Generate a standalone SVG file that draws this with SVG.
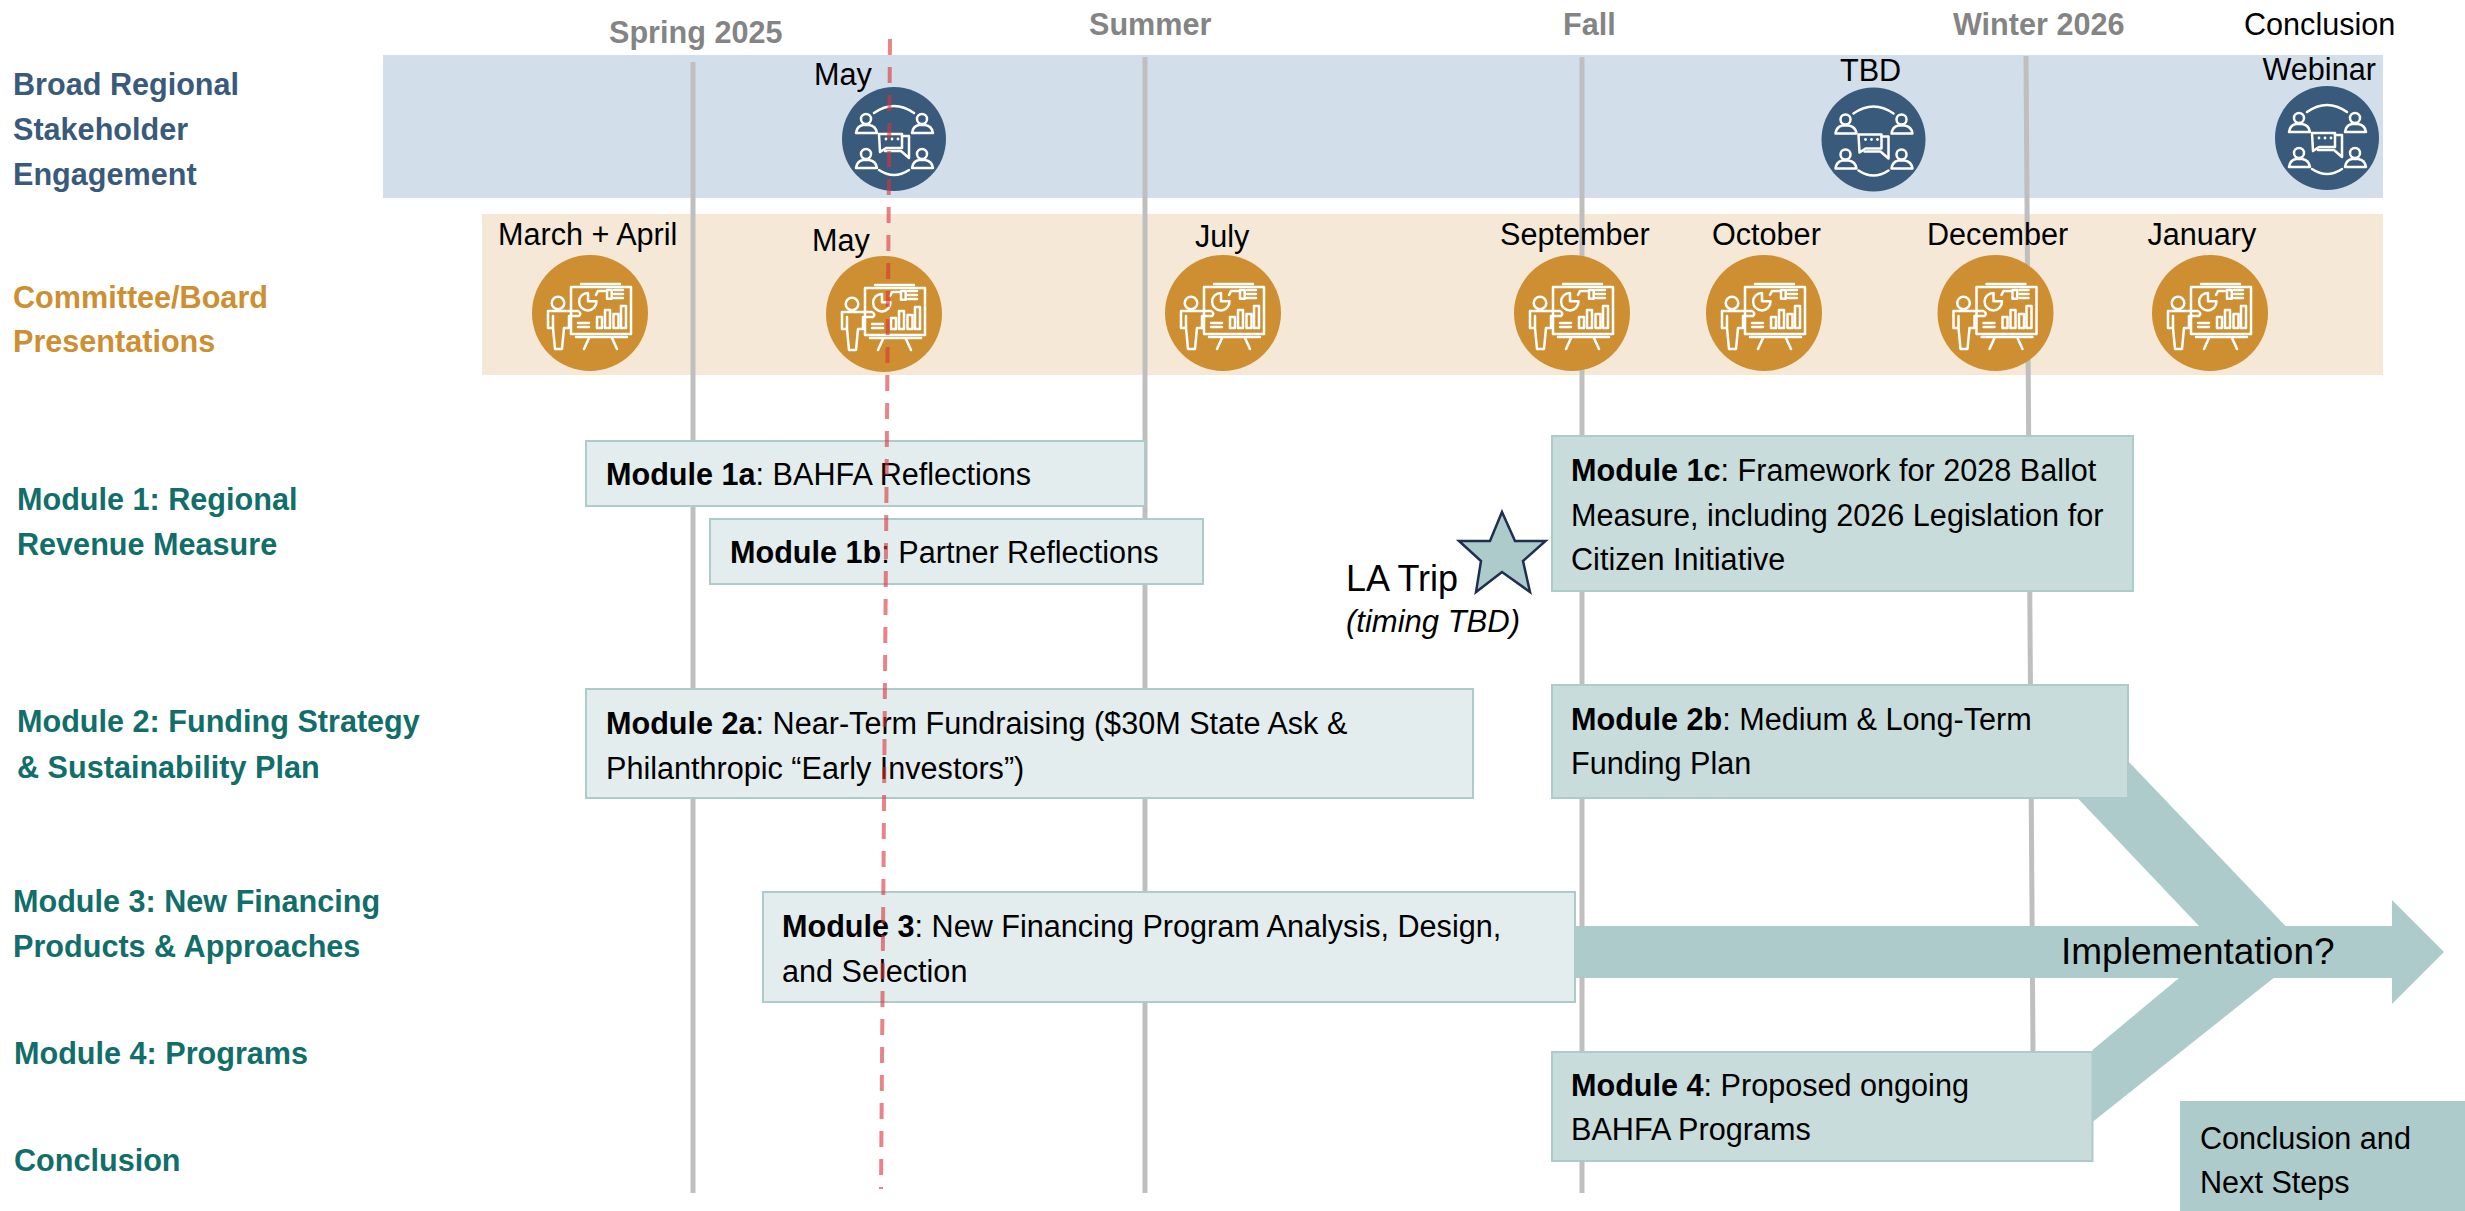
<svg xmlns="http://www.w3.org/2000/svg" width="2465" height="1211" viewBox="0 0 2465 1211">
<style>
text{font-family:"Liberation Sans",Arial,sans-serif;font-size:30.6px;fill:#000}
.season{font-weight:bold;fill:#848484}
.blue{font-weight:bold;fill:#3a5a7c}
.gold{font-weight:bold;fill:#cd8f32}
.teal{font-weight:bold;fill:#116e6a}
.b{font-weight:bold}
.vl{stroke:#bfbfbf;stroke-width:5;fill:none}
.lt{fill:#e3edee;stroke:#aecbcb;stroke-width:2}
.dk{fill:#c8dcdb;stroke:#aecbcb;stroke-width:2}
.arr{fill:#aecbcb}
.ic{fill:none;stroke:#fff;stroke-width:2.5;stroke-linejoin:round;stroke-linecap:round}
</style>
<defs>
<g id="meet"><circle r="52" fill="#3a5a7c"/><g class="ic">
<path d="M-20,-26Q0,-40 20,-26M-15,31Q0,41 15,31"/>
<circle cx="-28" cy="-20" r="5"/><path d="M-38,-6Q-37,-13 -31,-14H-25Q-18,-13 -17,-6Z"/>
<circle cx="28" cy="-20" r="5"/><path d="M18,-6Q19,-13 25,-14H31Q38,-13 39,-6Z"/>
<circle cx="-28" cy="15" r="5"/><path d="M-38,29Q-37,22 -31,21H-25Q-18,22 -17,29Z"/>
<circle cx="28" cy="15" r="5"/><path d="M18,29Q19,22 25,21H31Q38,22 39,29Z"/>
<path d="M-15,-5H8V9H-8L-14,13Z"/><path d="M8,-3H15V19L7,12H-9"/>
<circle cx="-8" cy="0" r="1.4" fill="#fff" stroke="none"/><circle cx="-2" cy="0" r="1.4" fill="#fff" stroke="none"/><circle cx="4" cy="0" r="1.4" fill="#fff" stroke="none"/></g></g>
<g id="pres"><circle r="58" fill="#cd8f32"/><g class="ic">
<path d="M-9,-29H30M-14,24H37M-1,25L-6,36M22,25L27,36"/>
<rect x="-19" y="-26" width="60" height="47"/>
<circle cx="-32" cy="-10" r="6.3"/>
<path d="M-12,-2H-42V15H-37L-35,36H-28L-26,15H-21V3H-11Q-8,0 -12,-2ZM-37,3V15"/>
<path d="M-2,-20A8.7,8.7 0 1 0 6.500,-11.700H-2Z"/><path d="M6,-18L8,-22H15"/>
<rect x="17" y="-23" width="4.700" height="8.700"/><path d="M24,-23H33M24,-19H33M24,-15H33M-12,10H-1M-12,14H-1"/>
<rect x="7" y="4" width="5" height="11"/><rect x="15" y="-3" width="5" height="18"/><rect x="23.500" y="1" width="5" height="14"/><rect x="31" y="-7" width="5" height="22"/>
</g></g>
</defs>
<g id="bands">
<rect x="383" y="55" width="2000" height="143" fill="#d2dee9"/>
<rect x="482" y="214" width="1901" height="161" fill="#f5e8d7"/>
</g>
<g id="timeline">
<path class="vl" d="M693,62V1193"/><path class="vl" d="M1145,57V1193"/><path class="vl" d="M1582,57V1193"/><path class="vl" d="M2026,56L2033,1052"/>
</g>
<g id="seasons">
<text class="season" x="609" y="43">Spring 2025</text>
<text class="season" x="1089" y="35">Summer</text>
<text class="season" x="1563" y="35">Fall</text>
<text class="season" x="1953" y="35">Winter 2026</text>
</g>
<g id="row-labels">
<text class="blue" x="13" y="94.5">Broad Regional</text>
<text class="blue" x="13" y="139.5">Stakeholder</text>
<text class="blue" x="13" y="184.5">Engagement</text>
<text class="gold" x="13" y="307.5">Committee/Board</text>
<text class="gold" x="13" y="351.5">Presentations</text>
<text class="teal" x="17" y="509.5">Module 1: Regional</text>
<text class="teal" x="17" y="554.5">Revenue Measure</text>
<text class="teal" x="17" y="731.5">Module 2: Funding Strategy</text>
<text class="teal" x="17" y="777.5">&amp; Sustainability Plan</text>
<text class="teal" x="13" y="911.5">Module 3: New Financing</text>
<text class="teal" x="13" y="956.5">Products &amp; Approaches</text>
<text class="teal" x="14" y="1063.5">Module 4: Programs</text>
<text class="teal" x="14" y="1170.5">Conclusion</text>
</g>
<g id="connectors">
<path class="arr" d="M1575,926H2392V900L2444,952L2392,1004V978H1575Z"/>
<path class="arr" d="M2128,761L2285.5,926L2273.6,978L2092.5,1122V1050L2179,978L2199,926L2077.5,798Z"/>
</g>
<g id="stakeholder-events">
<g id="ev-may"><use href="#meet" x="894" y="139"/><text x="814" y="84.5">May</text></g>
<g id="ev-tbd"><use href="#meet" x="1873.5" y="139.5"/><text x="1840" y="80.5">TBD</text></g>
<g id="ev-webinar"><use href="#meet" x="2327" y="138"/><text x="2244" y="35">Conclusion</text><text x="2262.5" y="79.5">Webinar</text></g>
</g>
<g id="presentations">
<g id="pr-mar"><use href="#pres" x="590" y="313"/><text x="498" y="244.5">March + April</text></g>
<g id="pr-may"><use href="#pres" x="884" y="314"/><text x="812" y="250.5">May</text></g>
<g id="pr-jul"><use href="#pres" x="1223" y="313"/><text x="1195" y="246.5">July</text></g>
<g id="pr-sep"><use href="#pres" x="1572" y="313"/><text x="1500" y="244.5">September</text></g>
<g id="pr-oct"><use href="#pres" x="1764" y="313"/><text x="1712" y="244.5">October</text></g>
<g id="pr-dec"><use href="#pres" x="1995.5" y="313"/><text x="1927" y="244.5">December</text></g>
<g id="pr-jan"><use href="#pres" x="2210" y="313"/><text x="2147.5" y="244.5">January</text></g>
</g>
<g id="m1a"><rect class="lt" x="586" y="441" width="559" height="65"/><text x="606" y="484.5"><tspan class="b">Module 1a</tspan>: BAHFA Reflections</text></g>
<g id="m1b"><rect class="lt" x="710" y="519" width="493" height="65"/><text x="730" y="562.5"><tspan class="b">Module 1b</tspan>: Partner Reflections</text></g>
<g id="m2a"><rect class="lt" x="586" y="689" width="887" height="109"/><text x="606" y="733.5"><tspan class="b">Module 2a</tspan>: Near-Term Fundraising ($30M State Ask &amp;</text><text x="606" y="778.5">Philanthropic “Early Investors”)</text></g>
<g id="m3"><rect class="lt" x="763" y="892" width="812" height="110"/><text x="782" y="936.5"><tspan class="b">Module 3</tspan>: New Financing Program Analysis, Design,</text><text x="782" y="981.5">and Selection</text></g>
<g id="m1c"><rect class="dk" x="1552" y="436" width="581" height="155"/><text x="1571" y="480.5"><tspan class="b">Module 1c</tspan>: Framework for 2028 Ballot</text><text x="1571" y="525.5">Measure, including 2026 Legislation for</text><text x="1571" y="569.5">Citizen Initiative</text></g>
<g id="m2b"><rect class="dk" x="1552" y="685" width="576" height="113"/><text x="1571" y="729.5"><tspan class="b">Module 2b</tspan>: Medium &amp; Long-Term</text><text x="1571" y="773.5">Funding Plan</text></g>
<g id="m4"><rect class="dk" x="1552" y="1052" width="540.5" height="109"/><text x="1571" y="1095.5"><tspan class="b">Module 4</tspan>: Proposed ongoing</text><text x="1571" y="1139.5">BAHFA Programs</text></g>
<g id="conclusion"><rect class="arr" x="2180" y="1101" width="285" height="110"/><text x="2200" y="1148.5">Conclusion and</text><text x="2200" y="1192.5">Next Steps</text></g>
<g id="implementation"><text x="2061" y="963.5" style="font-size:37px">Implementation?</text></g>
<g id="la-trip">
<path d="M1502,512L1515,541H1545.5L1523,561L1530,592L1502,572L1476,592L1481,561L1459,541H1490Z" fill="#aecbcb" stroke="#1f2f4f" stroke-width="2.5"/>
<text x="1346" y="590.5" style="font-size:36px">LA Trip</text>
<text x="1346" y="631.5" style="font-style:italic;font-size:31px">(timing TBD)</text>
</g>
<g id="today"><path d="M890,39L881,1189" stroke="#d8323a" stroke-opacity=".6" stroke-width="4" stroke-dasharray="16 12" fill="none"/></g>
</svg>
